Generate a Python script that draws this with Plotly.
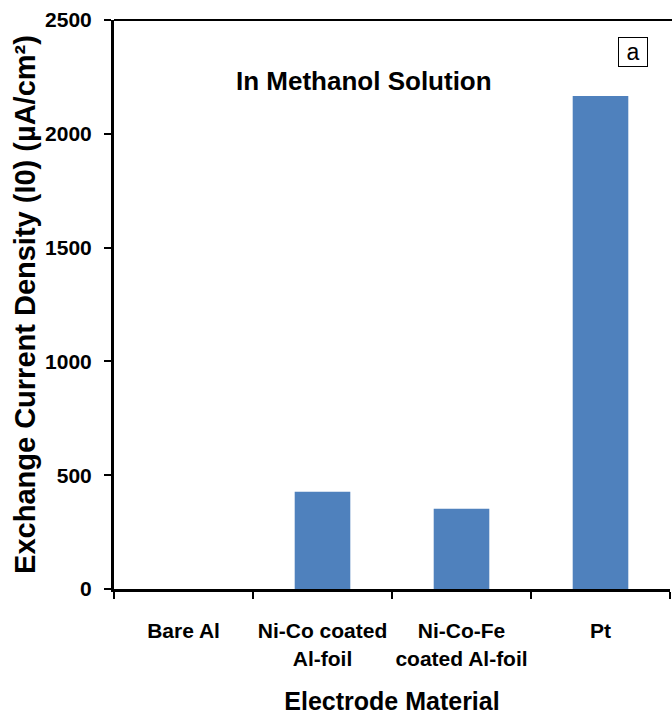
import plotly.graph_objects as go

# Electrode materials and their exchange current densities (µA/cm²)
materials = ["Bare Al", "Ni-Co coated<br>Al-foil", "Ni-Co-Fe<br>coated Al-foil", "Pt"]
exchange_current = [0, 427, 353, 2166]

y_ticks = [0, 500, 1000, 1500, 2000, 2500]

FONT = "Liberation Sans"
BAR_COLOR = "#4F81BD"

fig = go.Figure(
    go.Bar(
        x=materials,
        y=exchange_current,
        marker=dict(color=BAR_COLOR, line=dict(width=0)),
        width=0.4,
    )
)

fig.update_layout(
    width=672,
    height=716,
    margin=dict(l=114, r=2, t=20, b=127),
    paper_bgcolor="white",
    plot_bgcolor="white",
    showlegend=False,
    font=dict(family=FONT, color="black"),
)

fig.update_xaxes(
    type="category",
    automargin=False,
    showline=True,
    linecolor="black",
    linewidth=3,
    ticks="outside",
    tickson="boundaries",
    ticklen=7,
    tickwidth=2,
    tickcolor="black",
    tickangle=0,
    ticklabelstandoff=21,
    tickfont=dict(family=FONT, size=21, weight="bold", color="black"),
    showgrid=False,
    title=dict(
        text="Electrode Material",
        font=dict(family=FONT, size=25, weight="bold", color="black"),
        standoff=24,
    ),
)

fig.update_yaxes(
    range=[0, 2500],
    automargin=False,
    tickvals=y_ticks,
    showline=True,
    linecolor="black",
    linewidth=3,
    ticks="outside",
    ticklen=7,
    tickwidth=2,
    tickcolor="black",
    ticklabelstandoff=8,
    tickfont=dict(family=FONT, size=21, weight="bold", color="black"),
    showgrid=False,
    zeroline=False,
    title=dict(
        text="Exchange Current Density (I0) (µA/cm²)",
        font=dict(family=FONT, size=29, weight="bold", color="black"),
        standoff=1,
    ),
)

# top border of the plot frame
fig.add_shape(
    type="line", xref="paper", yref="paper",
    x0=0, x1=1.004, y0=1, y1=1,
    line=dict(color="black", width=2),
)

fig.add_annotation(
    text="In Methanol Solution",
    xref="paper", yref="paper",
    x=0.45, y=0.893,
    xanchor="center", yanchor="middle",
    showarrow=False,
    font=dict(family=FONT, size=26, weight="bold", color="black"),
)

fig.add_annotation(
    text="a",
    xref="paper", yref="paper",
    x=0.933, y=0.944,
    xanchor="center", yanchor="middle",
    showarrow=False,
    width=26, height=26,
    font=dict(family=FONT, size=23, color="black"),
    bordercolor="black",
    borderwidth=1,
    borderpad=1,
    bgcolor="white",
)

fig.write_html("out.html")
